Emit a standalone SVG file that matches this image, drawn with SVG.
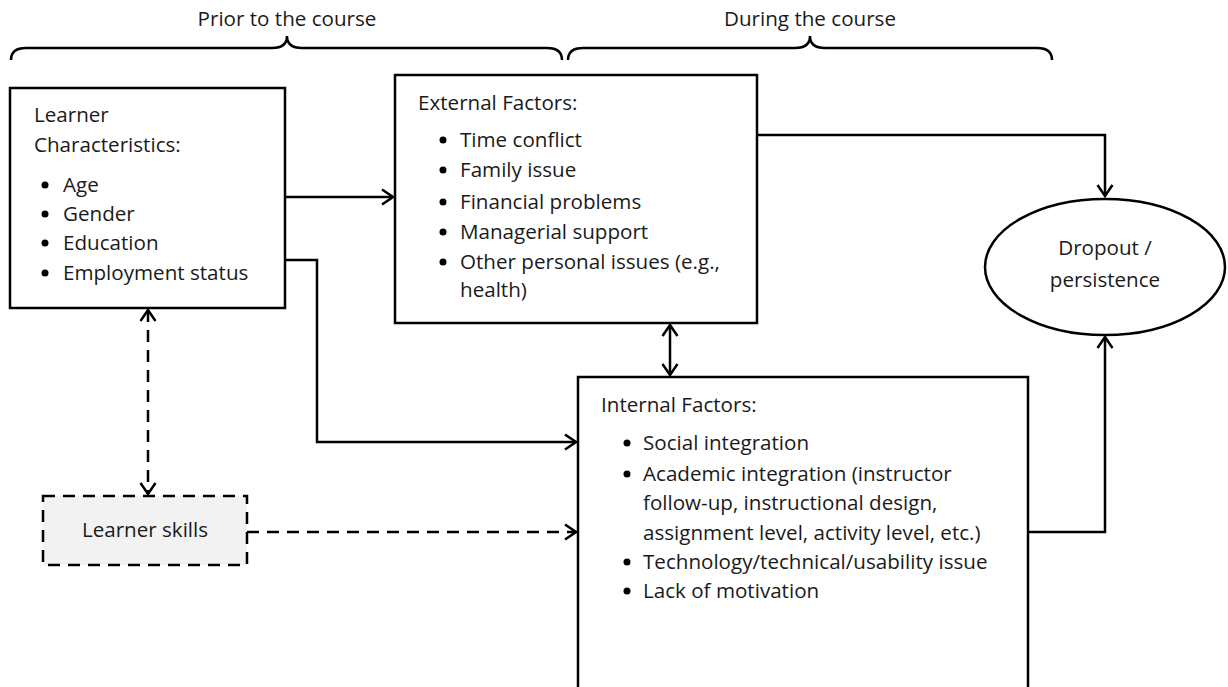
<svg xmlns="http://www.w3.org/2000/svg" width="1228" height="687" viewBox="0 0 1228 687">
<style>
text{font-family:"Open Sans","Noto Sans",sans-serif;font-size:20.6px;fill:#1a1a1a}
.box{fill:#fff;stroke:#000;stroke-width:2.5}
.ln{fill:none;stroke:#000;stroke-width:2.5}
.dash{stroke-dasharray:12 8}
.mid{text-anchor:middle}
</style>
<defs>
<marker id="ah" markerUnits="userSpaceOnUse" viewBox="-14 -10 16 20" refX="0" refY="0" markerWidth="16" markerHeight="20" orient="auto-start-reverse">
<path d="M-11,-7.5 L0,0 L-11,7.5" fill="none" stroke="#000" stroke-width="2.5"/>
</marker>
</defs>
<g id="braces">
<path class="ln" d="M11,60 Q11,48 26,48 L272,48 Q287,48 287,36 Q287,48 302,48 L547,48 Q562,48 562,60"/>
<path class="ln" d="M568,60 Q568,48 583,48 L795,48 Q810,48 810,36 Q810,48 825,48 L1037,48 Q1052,48 1052,60"/>
<text class="mid" x="287" y="26">Prior to the course</text>
<text class="mid" x="810" y="26">During the course</text>
</g>
<g id="connectors">
<path class="ln" d="M757,135 H1105 V196" marker-end="url(#ah)"/>
<path class="ln" d="M1028,532 H1105 V337" marker-end="url(#ah)"/>
<path class="ln" d="M285,197 H393" marker-end="url(#ah)"/>
<path class="ln" d="M285,260 H317 V442 H576" marker-end="url(#ah)"/>
<path class="ln dash" d="M247,532 H576" marker-end="url(#ah)"/>
<path class="ln dash" d="M148,310 V494" marker-start="url(#ah)" marker-end="url(#ah)"/>
<path class="ln" d="M670,325 V375" marker-start="url(#ah)" marker-end="url(#ah)"/>
</g>
<g id="learner-characteristics">
<rect class="box" x="10" y="88" width="275" height="220"/>
<text x="34" y="122">Learner</text>
<text x="34" y="152">Characteristics:</text>
<circle cx="45" cy="185" r="3.5"/><text x="63" y="192">Age</text>
<circle cx="45" cy="214" r="3.5"/><text x="63" y="221">Gender</text>
<circle cx="45" cy="243" r="3.5"/><text x="63" y="250">Education</text>
<circle cx="45" cy="273" r="3.5"/><text x="63" y="280">Employment status</text>
</g>
<g id="external-factors">
<rect class="box" x="395" y="75" width="362" height="248"/>
<text x="418" y="110">External Factors:</text>
<circle cx="443" cy="140" r="3.5"/><text x="460" y="147">Time conflict</text>
<circle cx="443" cy="170" r="3.5"/><text x="460" y="177">Family issue</text>
<circle cx="443" cy="202" r="3.5"/><text x="460" y="209">Financial problems</text>
<circle cx="443" cy="232" r="3.5"/><text x="460" y="239">Managerial support</text>
<circle cx="443" cy="262" r="3.5"/><text x="460" y="269">Other personal issues (e.g.,</text>
<text x="460" y="297">health)</text>
</g>
<g id="internal-factors">
<rect class="box" x="578" y="377" width="450" height="330"/>
<text x="601" y="412">Internal Factors:</text>
<circle cx="627" cy="443" r="3.5"/><text x="643" y="450">Social integration</text>
<circle cx="627" cy="474" r="3.5"/><text x="643" y="481">Academic integration (instructor</text>
<text x="643" y="510">follow-up, instructional design,</text>
<text x="643" y="540">assignment level, activity level, etc.)</text>
<circle cx="627" cy="562" r="3.5"/><text x="643" y="569">Technology/technical/usability issue</text>
<circle cx="627" cy="591" r="3.5"/><text x="643" y="598">Lack of motivation</text>
</g>
<g id="dropout">
<ellipse class="box" cx="1105" cy="267" rx="120" ry="68"/>
<text class="mid" x="1105" y="255">Dropout /</text>
<text class="mid" x="1105" y="287">persistence</text>
</g>
<g id="learner-skills">
<rect class="box dash" x="43" y="496" width="204" height="69" style="fill:#f2f2f2"/>
<text class="mid" x="145" y="537">Learner skills</text>
</g>
</svg>
